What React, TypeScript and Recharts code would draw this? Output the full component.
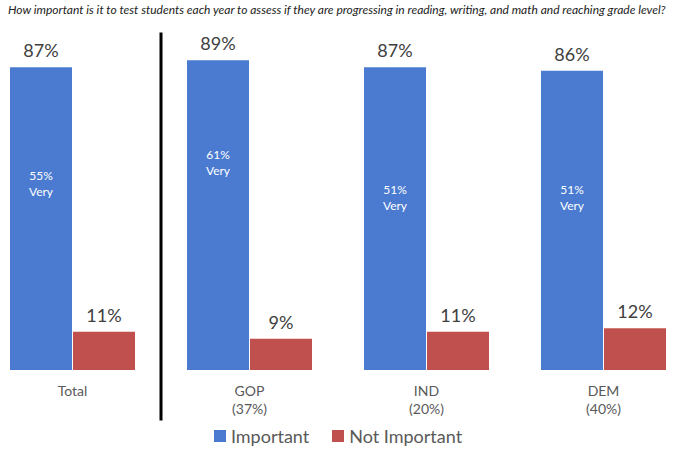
import React from 'react';
import { BarChart, Bar, XAxis, YAxis, LabelList, Legend, ReferenceLine } from 'recharts';

const categories = ['Total', 'GOP\n(37%)', 'IND\n(20%)', 'DEM\n(40%)'];
const important = [87, 89, 87, 86];
const notImportant = [11, 9, 11, 12];
const veryImportant = [55, 61, 51, 51];

const TITLE = 'How important is it to test students each year to assess if they are progressing in reading, writing, and math and reaching grade level?';
const FONT = 'Lato, "Noto Sans", sans-serif';
const BLUE = '#4a7bd0';
const RED = '#c0504d';
const GREY = '#595959';

const data = categories.map((name, i) => ({
  name,
  important: important[i],
  notImportant: notImportant[i],
  very: veryImportant[i],
}));

const CategoryTick = ({ x, y, payload }: any) => {
  const lines = String(payload.value).split('\n');
  return (
    <text x={x} y={y} textAnchor="middle" fill={GREY} fontSize={14} fontFamily={FONT}>
      {lines.map((l, i) => (
        <tspan key={i} x={x} dy={i === 0 ? 26 : 18}>{l}</tspan>
      ))}
    </text>
  );
};

// "55% / Very" sits at the height of the very-important share inside the blue bar
const VeryLabel = ({ x, y, width, height, index }: any) => {
  const d = data[index];
  if (!d) return null;
  const yVery = y + height - (height * d.very) / d.important;
  const cx = x + width / 2;
  return (
    <text x={cx} y={yVery} textAnchor="middle" fill="#ffffff" fontSize={12} fontFamily={FONT}>
      <tspan x={cx} dy={1}>{d.very}%</tspan>
      <tspan x={cx} dy={16}>Very</tspan>
    </text>
  );
};

const LegendContent = () => (
  <div style={{ display: 'flex', justifyContent: 'center', alignItems: 'center', height: 24, lineHeight: '24px', fontFamily: FONT, fontSize: 18, color: GREY }}>
    <span style={{ display: 'inline-block', width: 12, height: 12, background: BLUE, marginRight: 5 }} />
    <span style={{ marginRight: 23 }}>Important</span>
    <span style={{ display: 'inline-block', width: 12, height: 12, background: RED, marginRight: 5 }} />
    <span>Not Important</span>
  </div>
);

export default function App() {
  return (
    <div style={{ position: 'relative', width: 673, height: 450, overflow: 'hidden', background: '#fff' }}>
      <style>{'body { margin: 0; }'}</style>
      <div style={{ position: 'absolute', left: 8, top: 2, lineHeight: '16px', fontFamily: FONT, fontSize: 12, fontStyle: 'italic', color: '#222', whiteSpace: 'nowrap' }}>
        {TITLE}
      </div>
      <div style={{ position: 'absolute', left: -16, top: 0 }}>
        <BarChart
          width={708}
          height={450}
          data={data}
          margin={{ top: 22, right: 0, bottom: 0, left: 0 }}
          barSize={62}
          barGap={1}
        >
          <XAxis dataKey="name" axisLine={false} tickLine={false} tickSize={0} tickMargin={0} height={56} tick={<CategoryTick />} interval={0} />
          <YAxis domain={[0, 100]} hide />
          <Legend height={24} verticalAlign="bottom" wrapperStyle={{ bottom: 2 }} content={<LegendContent />} />
          <Bar dataKey="important" name="Important" fill={BLUE} isAnimationActive={false}>
            <LabelList dataKey="important" position="top" offset={10} formatter={(v: any) => `${v}%`} fill="#404040" fontSize={18} fontFamily={FONT} />
            <LabelList dataKey="very" content={<VeryLabel />} />
          </Bar>
          <Bar dataKey="notImportant" name="Not Important" fill={RED} isAnimationActive={false}>
            <LabelList dataKey="notImportant" position="top" offset={10} formatter={(v: any) => `${v}%`} fill="#404040" fontSize={18} fontFamily={FONT} />
          </Bar>
          <ReferenceLine
            segment={[{ x: categories[1], y: 97 }, { x: categories[1], y: -14.5 }]}
            position="start"
            stroke="#000"
            strokeWidth={3}
            ifOverflow="visible"
          />
        </BarChart>
      </div>
    </div>
  );
}
